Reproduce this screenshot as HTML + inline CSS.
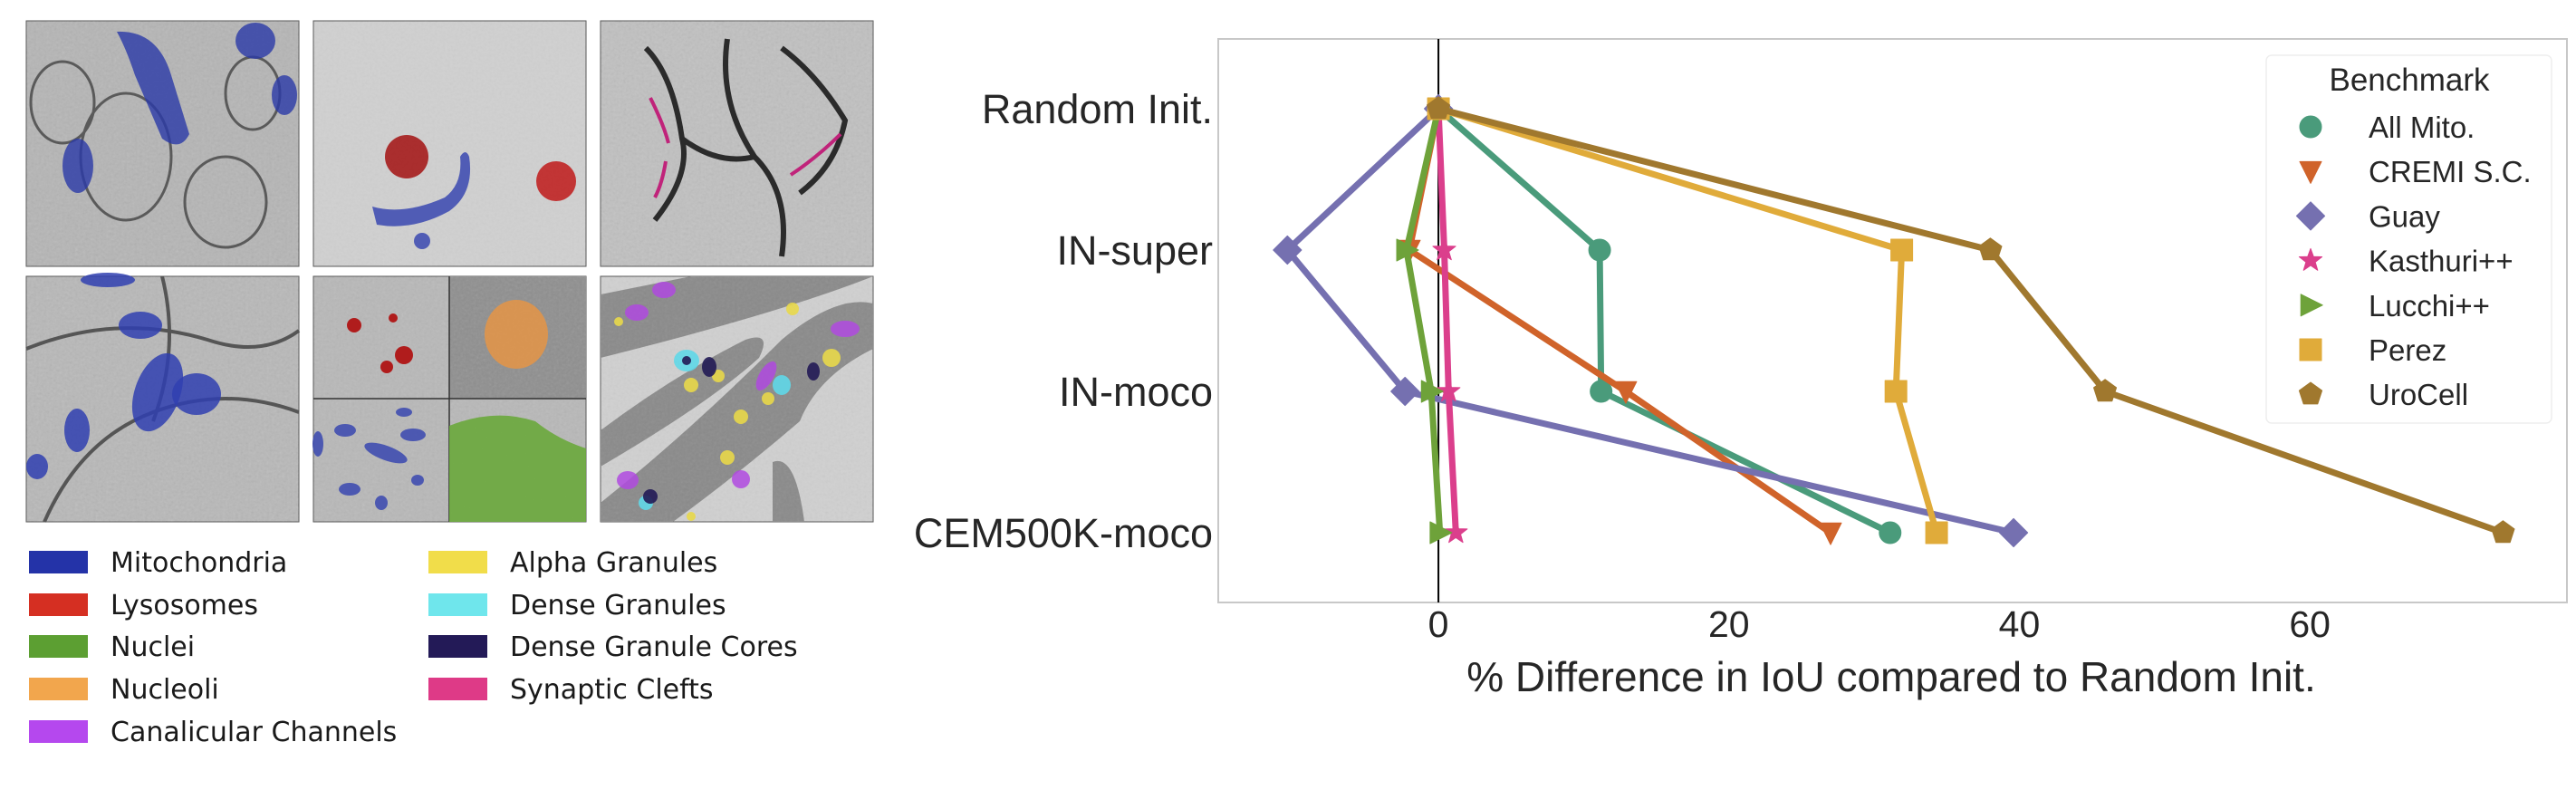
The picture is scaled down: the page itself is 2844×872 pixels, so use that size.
<!DOCTYPE html>
<html><head><meta charset="utf-8"><style>
html,body{margin:0;padding:0;background:#fff;}
svg{display:block;font-family:"Liberation Sans",sans-serif;}
</style></head><body>
<svg id="fig" width="2844" height="872" viewBox="0 0 2844 872" xmlns="http://www.w3.org/2000/svg">
<defs>
<filter id="noise" x="0" y="0" width="100%" height="100%"><feTurbulence type="fractalNoise" baseFrequency="0.35" numOctaves="2" seed="3"/><feColorMatrix type="saturate" values="0"/><feComponentTransfer><feFuncA type="table" tableValues="0 0.35"/></feComponentTransfer><feComposite in2="SourceGraphic" operator="in"/></filter>
</defs>
<g>
 <g transform="translate(29,23)">
  <rect width="301" height="271" fill="#b5b5b5" stroke="#555"/>
  <rect width="301" height="271" fill="#000" filter="url(#noise)" opacity="0.6"/>
  <g fill="none" stroke="#5a5a5a" stroke-width="3"><ellipse cx="110" cy="150" rx="50" ry="70"/><ellipse cx="40" cy="90" rx="35" ry="45"/><ellipse cx="220" cy="200" rx="45" ry="50"/><ellipse cx="250" cy="80" rx="30" ry="40"/></g>
  <path d="M100 12 Q145 10 160 60 L180 125 Q170 145 150 130 L120 60 Q110 30 100 12Z" fill="#2a3aa8" opacity="0.8"/>
  <ellipse cx="253" cy="22" rx="22" ry="20" fill="#2a3aa8" opacity="0.8"/>
  <ellipse cx="285" cy="82" rx="14" ry="22" fill="#2a3aa8" opacity="0.8"/>
  <ellipse cx="57" cy="160" rx="17" ry="30" fill="#2a3aa8" opacity="0.8"/>
 </g>
 <g transform="translate(346,23)">
  <rect width="301" height="271" fill="#d0d0d0" stroke="#555"/>
  <rect width="301" height="271" fill="#000" filter="url(#noise)" opacity="0.3"/>
  <circle cx="103" cy="150" r="24" fill="#a51c1c" opacity="0.9"/>
  <circle cx="268" cy="177" r="22" fill="#c02424" opacity="0.9"/>
  <path d="M65 205 Q100 215 145 195 Q165 180 162 150 Q168 140 172 150 Q178 190 150 210 Q110 232 70 225Z" fill="#3a48b0" opacity="0.85"/>
  <circle cx="120" cy="243" r="9" fill="#3a48b0" opacity="0.85"/>
 </g>
 <g transform="translate(663,23)">
  <rect width="301" height="271" fill="#c0c0c0" stroke="#555"/>
  <rect width="301" height="271" fill="#000" filter="url(#noise)" opacity="0.6"/>
  <g fill="none" stroke="#2b2b2b" stroke-width="6"><path d="M50 30 Q80 60 90 130 Q100 170 60 220"/><path d="M140 20 Q130 90 170 150 Q210 190 200 260"/><path d="M200 30 Q240 60 270 110 Q260 160 220 190"/><path d="M90 130 Q130 160 170 150"/></g>
  <path d="M55 85 Q70 115 75 135 M72 155 Q68 180 60 195 M210 170 Q240 150 265 125" stroke="#c0237a" stroke-width="4" fill="none"/>
 </g>
 <g transform="translate(29,305)">
  <rect width="301" height="271" fill="#b8b8b8" stroke="#555"/>
  <rect width="301" height="271" fill="#000" filter="url(#noise)" opacity="0.6"/>
  <g fill="none" stroke="#555" stroke-width="4"><path d="M0 80 Q100 40 200 70 Q260 90 301 60"/><path d="M20 271 Q60 180 140 150 Q220 120 301 150"/><path d="M150 0 Q170 80 140 160"/></g>
  <ellipse cx="126" cy="54" rx="24" ry="15" fill="#3040b0" opacity="0.85"/>
  <ellipse cx="145" cy="128" rx="25" ry="45" transform="rotate(20 145 128)" fill="#3040b0" opacity="0.85"/>
  <ellipse cx="188" cy="130" rx="27" ry="23" fill="#3040b0" opacity="0.85"/>
  <ellipse cx="56" cy="170" rx="14" ry="24" fill="#3040b0" opacity="0.85"/>
  <ellipse cx="12" cy="210" rx="12" ry="14" fill="#3040b0" opacity="0.85"/>
  <ellipse cx="90" cy="4" rx="30" ry="8" fill="#3040b0" opacity="0.85"/>
 </g>
 <g transform="translate(346,305)">
  <rect width="301" height="271" fill="#b8b8b8" stroke="#555"/>
  <rect x="150" width="151" height="135" fill="#8f8f8f"/>
  <rect width="301" height="271" fill="#000" filter="url(#noise)" opacity="0.5"/>
  <line x1="150" y1="0" x2="150" y2="271" stroke="#333" stroke-width="1.5"/>
  <line x1="0" y1="135" x2="301" y2="135" stroke="#333" stroke-width="1.5"/>
  <circle cx="45" cy="54" r="8" fill="#b01c1c"/><circle cx="88" cy="46" r="5" fill="#b01c1c"/><circle cx="100" cy="87" r="10" fill="#b01c1c"/><circle cx="81" cy="100" r="7" fill="#b01c1c"/>
  <ellipse cx="224" cy="64" rx="35" ry="38" fill="#e0954a" opacity="0.9"/>
  <path d="M150 165 Q200 145 245 160 Q270 180 301 190 L301 271 L150 271Z" fill="#6aa83c" opacity="0.9"/>
  <g fill="#3a48b0" opacity="0.85"><ellipse cx="35" cy="170" rx="12" ry="7"/><ellipse cx="80" cy="195" rx="25" ry="8" transform="rotate(20 80 195)"/><ellipse cx="110" cy="175" rx="14" ry="7"/><ellipse cx="5" cy="185" rx="6" ry="14"/><ellipse cx="40" cy="235" rx="12" ry="7"/><ellipse cx="115" cy="225" rx="7" ry="6"/><ellipse cx="75" cy="250" rx="7" ry="8"/><ellipse cx="100" cy="150" rx="9" ry="5"/></g>
 </g>
 <g transform="translate(663,305)">
  <rect width="301" height="271" fill="#d0d0d0" stroke="#555"/>
  <path d="M0 20 L100 0 L301 0 L301 0 Q200 40 0 90Z" fill="#8a8a8a"/>
  <path d="M0 170 Q80 110 160 70 Q190 60 175 90 Q120 140 0 210Z" fill="#8a8a8a"/>
  <path d="M0 250 Q100 170 200 70 Q260 20 301 30 L301 80 Q240 110 220 160 Q150 220 80 271 L0 271Z" fill="#8a8a8a"/>
  <path d="M190 205 Q215 195 225 271 L190 271Z" fill="#8a8a8a"/>
  <rect width="301" height="271" fill="#000" filter="url(#noise)" opacity="0.4"/>
  <g fill="#e8d84a" opacity="0.9"><circle cx="100" cy="120" r="8"/><circle cx="130" cy="110" r="7"/><circle cx="185" cy="135" r="7"/><circle cx="155" cy="155" r="8"/><circle cx="140" cy="200" r="8"/><circle cx="255" cy="90" r="10"/><circle cx="212" cy="36" r="7"/><circle cx="20" cy="50" r="5"/><circle cx="100" cy="265" r="5"/></g>
  <g fill="#b04ae0" opacity="0.85"><ellipse cx="70" cy="15" rx="13" ry="9"/><ellipse cx="40" cy="40" rx="13" ry="9"/><ellipse cx="270" cy="58" rx="16" ry="9"/><ellipse cx="183" cy="110" rx="8" ry="18" transform="rotate(30 183 110)"/><ellipse cx="155" cy="224" rx="10" ry="10"/><ellipse cx="30" cy="225" rx="12" ry="10"/></g>
  <g fill="#60d8e8" opacity="0.9"><ellipse cx="95" cy="93" rx="14" ry="12"/><ellipse cx="200" cy="120" rx="10" ry="11"/><ellipse cx="50" cy="250" rx="8" ry="8"/></g>
  <g fill="#221a55" opacity="0.9"><circle cx="95" cy="93" r="5"/><ellipse cx="120" cy="100" rx="8" ry="11"/><ellipse cx="235" cy="105" rx="7" ry="10"/><circle cx="55" cy="243" r="8"/></g>
 </g>
</g>
<g font-size="30" fill="#1a1a1a" style="font-family:'DejaVu Sans',sans-serif">
 <g><rect x="32" y="608" width="65" height="25" fill="#2433a8"/><text x="122" y="631">Mitochondria</text></g>
 <g><rect x="32" y="655" width="65" height="25" fill="#d52f22"/><text x="122" y="678">Lysosomes</text></g>
 <g><rect x="32" y="701" width="65" height="25" fill="#5c9f32"/><text x="122" y="724">Nuclei</text></g>
 <g><rect x="32" y="748" width="65" height="25" fill="#f2a64d"/><text x="122" y="771">Nucleoli</text></g>
 <g><rect x="32" y="795" width="65" height="25" fill="#b548ee"/><text x="122" y="818">Canalicular Channels</text></g>
 <g><rect x="473" y="608" width="65" height="25" fill="#f1dd4a"/><text x="563" y="631">Alpha Granules</text></g>
 <g><rect x="473" y="655" width="65" height="25" fill="#6fe6ec"/><text x="563" y="678">Dense Granules</text></g>
 <g><rect x="473" y="701" width="65" height="25" fill="#231a57"/><text x="563" y="724">Dense Granule Cores</text></g>
 <g><rect x="473" y="748" width="65" height="25" fill="#de3a87"/><text x="563" y="771">Synaptic Clefts</text></g>
</g>
<g id="chart"></g>
</svg>
<script>
const categories = ["Random Init.", "IN-super", "IN-moco", "CEM500K-moco"];
const seriesNames = ["All Mito.", "CREMI S.C.", "Guay", "Kasthuri++", "Lucchi++", "Perez", "UroCell"];
const allMito = [0, 11.1, 11.2, 31.1];
const cremi = [0, -2.0, 12.9, 27.0];
const guay = [0, -10.4, -2.3, 39.6];
const kasthuri = [0, 0.4, 0.7, 1.2];
const lucchi = [0, -2.2, -0.5, 0.1];
const perez = [0, 31.9, 31.5, 34.3];
const urocell = [0, 38.0, 45.9, 73.3];
const xTicks = [0, 20, 40, 60];
const seriesValues = [allMito, cremi, guay, kasthuri, lucchi, perez, urocell];
const colors = ["#4a9b7b", "#d0632a", "#7570b0", "#db3f8c", "#6ea23a", "#e0ab3a", "#a0782e"];
const markers = ["circle", "tri-down", "diamond", "star", "tri-right", "square", "pentagon"];

const NS = "http://www.w3.org/2000/svg";
const L = 1345, R = 2834, T = 43, B = 665;
const xMin = -15.16, xMax = 77.7;
function xs(v){ return L + (v - xMin) / (xMax - xMin) * (R - L); }
const catY = [120, 277, 432, 588];
function ys(i){ return catY[0] + i * (catY[3] - catY[0]) / (categories.length - 1); }
function el(tag, attrs, parent){ const e = document.createElementNS(NS, tag); for (const k in attrs) e.setAttribute(k, attrs[k]); parent.appendChild(e); return e; }
function markerPath(type, cx, cy, s){
  if (type === "circle") return `M${cx-s} ${cy}a${s} ${s} 0 1 0 ${2*s} 0a${s} ${s} 0 1 0 ${-2*s} 0Z`;
  if (type === "tri-down") return `M${cx-s} ${cy-s*0.9}L${cx+s} ${cy-s*0.9}L${cx} ${cy+s*1.1}Z`;
  if (type === "tri-right") return `M${cx-s*0.9} ${cy-s}L${cx+s*1.1} ${cy}L${cx-s*0.9} ${cy+s}Z`;
  if (type === "diamond") return `M${cx} ${cy-s*1.3}L${cx+s*1.3} ${cy}L${cx} ${cy+s*1.3}L${cx-s*1.3} ${cy}Z`;
  if (type === "square") return `M${cx-s} ${cy-s}h${2*s}v${2*s}h${-2*s}Z`;
  let pts = [], n = type === "star" ? 10 : 5;
  for (let k = 0; k < n; k++){ const a = -Math.PI/2 + k*2*Math.PI/n; const r = (type === "star" && k%2) ? s*0.45 : s*1.1; pts.push((cx + r*Math.cos(a)).toFixed(1) + " " + (cy + r*Math.sin(a)).toFixed(1)); }
  return "M" + pts.join("L") + "Z";
}
const chart = document.getElementById("chart");
const frame = el("rect", {x: L, y: T, width: R - L, height: B - T, fill: "#fff", stroke: "#c8c8c8", "stroke-width": 2}, chart);


const zero = el("line", {x1: xs(0), x2: xs(0), y1: T, y2: B, stroke: "#000", "stroke-width": 2}, chart);


categories.forEach((c, i) => {
  const t = el("text", {x: 1339, y: ys(i) + 16, "text-anchor": "end", "font-size": 45, fill: "#262626"}, chart);
  t.textContent = c;
  
  
});
xTicks.forEach(v => {
  const t = el("text", {x: xs(v), y: 703, "text-anchor": "middle", "font-size": 41, fill: "#262626"}, chart);
  t.textContent = v;
  
  
});
const xt = el("text", {x: 2088, y: 763, "text-anchor": "middle", "font-size": 46, fill: "#262626"}, chart);
xt.textContent = "% Difference in IoU compared to Random Init.";


seriesValues.forEach((vals, si) => {
  const g = el("g", {}, chart);
  
  
  const d = vals.map((v, i) => (i ? "L" : "M") + xs(v).toFixed(1) + " " + ys(i)).join("");
  const line = el("path", {d: d, fill: "none", stroke: colors[si], "stroke-width": 7, "stroke-linejoin": "round"}, g);
  
  
  vals.forEach((v, i) => {
    const m = el("path", {d: markerPath(markers[si], xs(v), ys(i), 12), fill: colors[si], "stroke": colors[si], "stroke-width": 1, "stroke-linejoin": "round"}, g);
    
    
  });
});
const lg = el("g", {}, chart);


el("rect", {x: 2502, y: 61, width: 315, height: 406, rx: 6, fill: "#fff", "fill-opacity": 0.85, stroke: "#eeeeee", "stroke-width": 1.5}, lg);
const lt = el("text", {x: 2660, y: 100, "text-anchor": "middle", "font-size": 35, fill: "#262626"}, lg);
lt.textContent = "Benchmark";


seriesNames.forEach((n, si) => {
  const cy = 140 + si * 49.2;
  const e = el("g", {}, lg);
  
  
  el("path", {d: markerPath(markers[si], 2551, cy, 12), fill: colors[si], stroke: colors[si], "stroke-width": 1, "stroke-linejoin": "round"}, e);
  const t = el("text", {x: 2615, y: cy + 12, "font-size": 33, fill: "#262626"}, e);
  t.textContent = n;
});
</script>
</body></html>
